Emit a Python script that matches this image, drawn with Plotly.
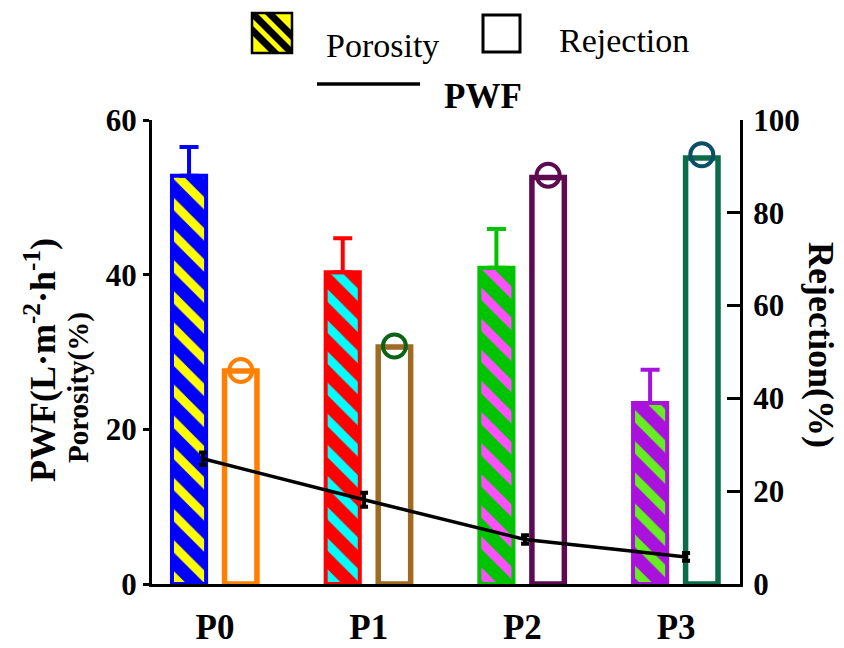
import plotly.graph_objects as go

# ---------------- data ----------------
categories = ["P0", "P1", "P2", "P3"]
porosity = [52.8, 40.3, 40.9, 23.4]
porosity_err = [3.7, 4.4, 5.0, 4.3]
rejection = [45.9, 51.1, 87.6, 91.8]
rejection_marker = [46.0, 51.3, 88.1, 92.5]
pwf = [16.2, 10.9, 5.75, 3.5]
pwf_err = [0.8, 0.9, 0.55, 0.5]

por_bg = ["#0000ff", "#ff0000", "#00c400", "#a812dc"]
por_stripe = ["#ffff00", "#00ffff", "#ff50ff", "#66ee22"]
rej_line = ["#ff8000", "#a06a22", "#5e0a50", "#0c6c4a"]
rej_circle = ["#ff8000", "#0a6414", "#5e0a50", "#0a4e68"]

# ---------------- layout geometry ----------------
W, H = 844, 648
L, R, T, B = 152, 104, 120, 64
PW, PH = W - L - R, H - T - B


def px(x):
    return (x - L) / PW


def py(y):
    return (H - B - y) / PH


FONT = "Liberation Serif"

fig = go.Figure()

# porosity bars (patterned) with upward error bars
for i, c in enumerate(categories):
    fig.add_trace(go.Bar(
        x=[c], y=[porosity[i]], xaxis="x", yaxis="y",
        width=0.222, offset=-0.28,
        marker=dict(
            color=por_stripe[i],
            line=dict(color=por_bg[i], width=4),
            pattern=dict(shape="\\", fgcolor=por_stripe[i], bgcolor=por_bg[i],
                         size=22, solidity=0.4, fillmode="replace"),
        ),
        error_y=dict(type="data", array=[porosity_err[i]], arrayminus=[0],
                     symmetric=False, color=por_bg[i], thickness=4, width=9.5),
        showlegend=False, name="Porosity",
    ))

# rejection bars (open)
fig.add_trace(go.Bar(
    x=categories, y=rejection, xaxis="x", yaxis="y2",
    width=0.211, offset=0.062,
    marker=dict(color="rgba(255,255,255,0)", line=dict(color=rej_line, width=5.5)),
    showlegend=False, name="Rejection",
))

# rejection circles
fig.add_trace(go.Scatter(
    x=categories, y=rejection_marker, xaxis="x3", yaxis="y2",
    mode="markers",
    marker=dict(symbol="circle-open", size=23, color=rej_circle, line=dict(width=4)),
    showlegend=False,
))

# PWF line
fig.add_trace(go.Scatter(
    x=categories, y=pwf, xaxis="x2", yaxis="y",
    mode="lines", line=dict(color="black", width=3.5),
    error_y=dict(type="data", array=pwf_err, color="black", thickness=4, width=4),
    showlegend=False, name="PWF",
))

tickfont = dict(family=FONT, size=31, color="black", weight="bold")

fig.update_layout(
    width=W, height=H,
    margin=dict(l=L, r=R, t=T, b=B, autoexpand=False),
    paper_bgcolor="white", plot_bgcolor="white",
    showlegend=False,
    xaxis=dict(type="category", range=[-0.41, 3.416], showline=True, linewidth=3,
               linecolor="black", ticks="", showgrid=False, zeroline=False,
               tickfont=dict(family=FONT, size=35, color="black", weight="bold"),
               ticklabelstandoff=10, automargin=False),
    xaxis2=dict(type="category", overlaying="x", range=[-0.317, 3.335], visible=False),
    xaxis3=dict(type="category", overlaying="x", range=[-0.41 - 0.1675, 3.416 - 0.1675],
                visible=False),
    yaxis=dict(range=[0, 60], tickvals=[0, 20, 40, 60], ticks="outside", ticklen=6,
               tickwidth=3, tickcolor="black", showline=True, linewidth=3,
               linecolor="black", showgrid=False, zeroline=False, tickfont=tickfont,
               automargin=False),
    yaxis2=dict(overlaying="y", side="right", range=[0, 100],
                tickvals=[0, 20, 40, 60, 80, 100], ticks="inside", ticklen=13,
                tickwidth=3, tickcolor="black", showline=True, linewidth=3,
                linecolor="black", showgrid=False, zeroline=False, tickfont=tickfont,
                ticklabelstandoff=4, automargin=False),
)

# axis titles
fig.add_annotation(text="PWF(L·m<sup>-2</sup>·h<sup>-1</sup>)", xref="paper", yref="paper",
                   x=px(40), y=py(360), textangle=-90, showarrow=False,
                   xanchor="center", yanchor="middle",
                   font=dict(family=FONT, size=36, color="black", weight="bold"))
fig.add_annotation(text="Porosity(%)", xref="paper", yref="paper",
                   x=px(78), y=py(388), textangle=-90, showarrow=False,
                   xanchor="center", yanchor="middle",
                   font=dict(family=FONT, size=29, color="black", weight="bold"))
fig.add_annotation(text="Rejection(%)", xref="paper", yref="paper",
                   x=px(821), y=py(345), textangle=90, showarrow=False,
                   xanchor="center", yanchor="middle",
                   font=dict(family=FONT, size=36, color="black", weight="bold"))

# ---------------- custom legend ----------------
shapes = []
# Porosity swatch: yellow square with black diagonal stripes
sx0, sy0, S = 252, 13, 40
shapes.append(dict(type="rect", xref="paper", yref="paper",
                   x0=px(sx0), x1=px(sx0 + S), y0=py(sy0 + S), y1=py(sy0),
                   fillcolor="#ffff00", line=dict(width=0)))


def band(k1, k2):
    # polygon of the band k1 <= u - v <= k2 inside [0,S]^2 (pixel coords, y down)
    if k1 < 0 < k2:
        pts = [(0, 0), (k2, 0), (S, S - k2), (S, S), (S + k1, S), (0, -k1)]
    elif k1 >= 0:
        pts = [(k1, 0), (k2, 0), (S, S - k2), (S, S - k1)]
    else:
        pts = [(0, -k2), (S + k2, S), (S + k1, S), (0, -k1)]
    return "M" + "L".join(f"{px(sx0 + u):.5f},{py(sy0 + v):.5f}" for u, v in pts) + "Z"


hw = 5
for k in (-17, 0, 17):
    shapes.append(dict(type="path", xref="paper", yref="paper", path=band(k - hw, k + hw),
                       fillcolor="black", line=dict(width=0)))
shapes.append(dict(type="rect", xref="paper", yref="paper",
                   x0=px(sx0), x1=px(sx0 + S), y0=py(sy0 + S), y1=py(sy0),
                   line=dict(color="black", width=2.5)))
# Rejection swatch: open square
shapes.append(dict(type="rect", xref="paper", yref="paper",
                   x0=px(483), x1=px(520), y0=py(52), y1=py(15),
                   line=dict(color="black", width=3)))
# PWF swatch: line
shapes.append(dict(type="line", xref="paper", yref="paper",
                   x0=px(317), x1=px(420), y0=py(84), y1=py(84),
                   line=dict(color="black", width=3.5)))
fig.update_layout(shapes=shapes)

legend_font = dict(family=FONT, size=34, color="black")
fig.add_annotation(text="Porosity", xref="paper", yref="paper", x=px(324), y=py(45),
                   xanchor="left", yanchor="middle", showarrow=False, font=legend_font)
fig.add_annotation(text="Rejection", xref="paper", yref="paper", x=px(557), y=py(40),
                   xanchor="left", yanchor="middle", showarrow=False, font=legend_font)
fig.add_annotation(text="PWF", xref="paper", yref="paper", x=px(442), y=py(96),
                   xanchor="left", yanchor="middle", showarrow=False,
                   font=dict(family=FONT, size=35, color="black", weight="bold"))

fig.write_html("out.html")
